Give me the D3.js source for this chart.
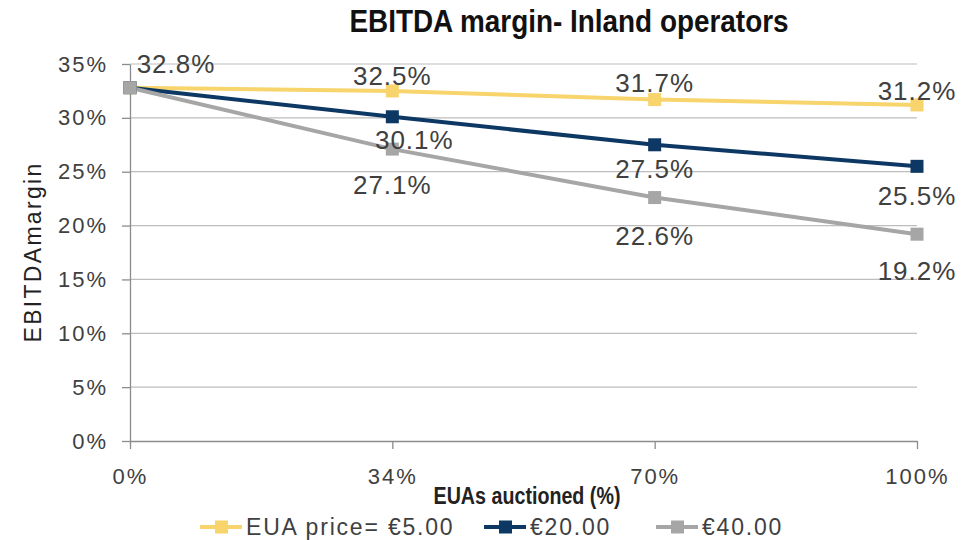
<!DOCTYPE html>
<html>
<head>
<meta charset="utf-8">
<script src="https://cdn.jsdelivr.net/npm/d3@7"></script>
<style>
  html, body { margin: 0; padding: 0; background: #fff; }
  svg { display: block; }
</style>
</head>
<body>
<svg id="chart" width="966" height="540"></svg>
<script>
// ---- data ----
const categories = ["0%", "34%", "70%", "100%"];
const seriesNames = ["EUA price= €5.00", "€20.00", "€40.00"];
const eur5 = [32.8, 32.5, 31.7, 31.2];
const eur20 = [32.8, 30.1, 27.5, 25.5];
const eur40 = [32.8, 27.1, 22.6, 19.2];
const yTicks = [0, 5, 10, 15, 20, 25, 30, 35];

// ---- styles ----
const colors = ["#F7D46C", "#0D3863", "#A6A6A6"];
// label offsets (dx, dy of label centre from its point), null = no label
const labelOffsets = [
  [[46, -24], [0, -15], [0, -17], [0, -14]],
  [null, [22, 23], [0, 24], [0, 30]],
  [null, [0, 36], [0, 38], [0, 37]]
];

const series = [eur5, eur20, eur40];
const svg = d3.select("#chart");
const m = { left: 130, right: 917, top: 64, bottom: 441 };

const x = d3.scalePoint().domain(categories).range([m.left, m.right]).padding(0);
const y = d3.scaleLinear().domain([0, 35]).range([m.bottom, m.top]);

const font = "'Liberation Sans', Arial, sans-serif";

// gridlines
svg.append("g").selectAll("line").data(yTicks.filter(d => d > 0)).join("line")
  .attr("x1", m.left).attr("x2", m.right)
  .attr("y1", d => y(d)).attr("y2", d => y(d))
  .attr("stroke", "#BDBDBD").attr("stroke-width", 1.2);

// y axis
const yAxis = svg.append("g").attr("transform", `translate(${m.left},0)`)
  .call(d3.axisLeft(y).tickValues(yTicks).tickFormat(d => d + "%").tickSize(8).tickSizeOuter(0));
yAxis.select(".domain").attr("stroke", "#8C8C8C").attr("stroke-width", 1.3);
yAxis.selectAll(".tick line").attr("stroke", "#8C8C8C").attr("stroke-width", 1.3);
yAxis.selectAll(".tick text").attr("x", -22).attr("font-family", font).attr("font-size", 22)
  .attr("fill", "#404040").attr("letter-spacing", 2);

// x axis
const xAxis = svg.append("g").attr("transform", `translate(0,${m.bottom})`)
  .call(d3.axisBottom(x).tickSize(8).tickSizeOuter(0));
xAxis.select(".domain").attr("stroke", "#8C8C8C").attr("stroke-width", 1.3);
xAxis.selectAll(".tick line").attr("stroke", "#8C8C8C").attr("stroke-width", 1.3);
xAxis.selectAll(".tick text").attr("y", 27).attr("font-family", font).attr("font-size", 22)
  .attr("fill", "#404040").attr("letter-spacing", 2);

// lines
const line = d3.line().x((d, i) => x(categories[i])).y(d => y(d));
series.forEach((s, k) => {
  svg.append("path").datum(s).attr("d", line)
    .attr("fill", "none").attr("stroke", colors[k]).attr("stroke-width", 4);
});
// markers
series.forEach((s, k) => {
  svg.append("g").selectAll("rect").data(s).join("rect")
    .attr("x", (d, i) => x(categories[i]) - 6.5)
    .attr("y", d => y(d) - 6.5)
    .attr("width", 13).attr("height", 13)
    .attr("fill", colors[k]);
});
// data labels
series.forEach((s, k) => {
  svg.append("g").selectAll("text").data(s.map((v, i) => ({ v, i })).filter(d => labelOffsets[k][d.i]))
    .join("text")
    .attr("x", d => x(categories[d.i]) + labelOffsets[k][d.i][0])
    .attr("y", d => y(d.v) + labelOffsets[k][d.i][1])
    .attr("text-anchor", "middle").attr("dominant-baseline", "central")
    .attr("font-family", font).attr("font-size", 26).attr("fill", "#404040")
    .attr("letter-spacing", 1)
    .text(d => d.v.toFixed(1) + "%");
});

// title
svg.append("text").attr("transform", "translate(569,32) scale(0.9,1)").attr("text-anchor", "middle")
  .attr("font-family", font).attr("font-weight", "bold").attr("font-size", 31)
  .attr("fill", "#111").text("EBITDA margin- Inland operators");

// axis titles
svg.append("text").attr("transform", "translate(33,252) rotate(-90)")
  .attr("text-anchor", "middle").attr("dominant-baseline", "central")
  .attr("font-family", font).attr("font-size", 23).attr("fill", "#222")
  .attr("letter-spacing", 2.3)
  .text("EBITDAmargin");
svg.append("text").attr("transform", "translate(527,496) scale(0.82,1)").attr("text-anchor", "middle")
  .attr("dominant-baseline", "central")
  .attr("font-family", font).attr("font-weight", "bold").attr("font-size", 24)
  .attr("fill", "#222").text("EUAs auctioned (%)");

// legend
const legendX = [200, 484, 656];
const ly = 527;
seriesNames.forEach((name, k) => {
  const g = svg.append("g").attr("transform", `translate(${legendX[k]},${ly})`);
  g.append("line").attr("x1", 0).attr("x2", 42).attr("y1", 0).attr("y2", 0)
    .attr("stroke", colors[k]).attr("stroke-width", 4);
  g.append("rect").attr("x", 15).attr("y", -6.5).attr("width", 13).attr("height", 13).attr("fill", colors[k]);
  g.append("text").attr("x", 46).attr("y", 0).attr("dominant-baseline", "central")
    .attr("font-family", font).attr("font-size", 23).attr("fill", "#404040")
    .attr("letter-spacing", 1.8)
    .text(name);
});
</script>
</body>
</html>
